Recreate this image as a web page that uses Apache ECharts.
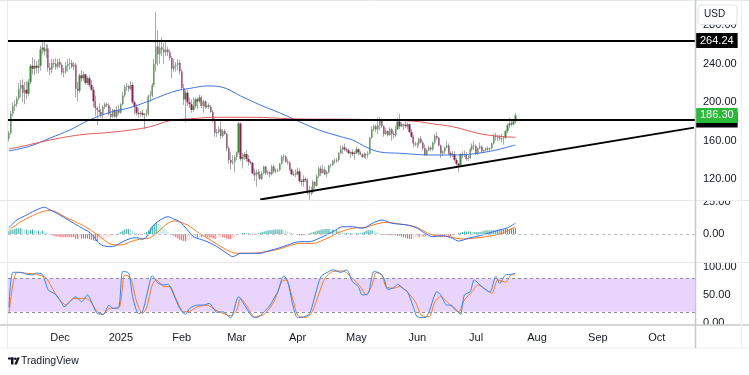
<!DOCTYPE html>
<html>
<head>
<meta charset="utf-8">
<script src="https://cdn.jsdelivr.net/npm/echarts@6/dist/echarts.min.js"></script>
<style>
html, body { margin: 0; padding: 0; background: #fff; }
#chart { width: 749px; height: 375px; }
</style>
</head>
<body>
<div id="chart"></div>
<script>
// ---- data ----
var startDate = [2024, 10, 5];   // first category = 5 Nov 2024
var dayCount = 350;              // time axis runs to 20 Oct 2025
var monthNames = ['2025', 'Feb', 'Mar', 'Apr', 'May', 'Jun', 'Jul', 'Aug', 'Sep', 'Oct', 'Nov', 'Dec'];
var priceTicks = [120, 160, 200, 240, 280];
var macdTicks = [0, 25];
var stochTicks = [0, 50, 100];

// daily candles [open, close, low, high]
var nov = [[162,168,159,170],[168,188,166,191],[188,196,185,200],[196,198,191,202],[198,204,195,206],[204,214,202,220],[214,218,205,223],[218,210,200,224],[210,213,198,221],[213,209,203,222],[209,221,206,224],[221,238,219,240],[238,235,229,247],[235,238,228,245],[238,236,230,243],[236,238,230,245],[238,255,233,259],[255,257,250,264],[257,253,249,264],[253,256,246,261],[256,236,232,260],[236,234,228,241],[234,241,230,245],[241,240,236,245],[240,237,234,246],[237,242,235,245]];
var dec = [[242,239,236,246],[239,231,228,241],[231,232,226,236],[232,238,230,242],[238,240,232,245],[240,241,234,246],[241,237,235,244],[237,239,233,242],[239,214,205,241],[214,212,201,221],[212,228,210,230],[228,225,221,233],[225,229,222,232],[229,220,218,230],[220,225,218,227],[225,218,216,228],[218,213,212,223],[213,201,195,216],[201,194,186,207],[194,192,176,196],[192,190,187,199],[190,187,184,193],[187,195,183,197],[195,198,193,200],[198,197,195,200],[197,188,186,199],[188,185,182,195],[185,192,184,193],[192,185,184,193],[185,192,183,196],[192,189,187,197]];
var jan = [[189,198,188,199],[198,207,197,211],[207,216,205,218],[216,217,212,220],[217,214,211,218],[214,218,212,222],[218,200,198,221],[200,195,187,202],[195,189,186,198],[189,188,184,194],[188,189,185,191],[189,187,185,192],[187,187.5,172,189],[187.5,188,185,193],[188,206,186,208],[206,207,200,212],[207,218,205,220],[218,240,216,245],[240,258,232,294],[258,250,238,275],[250,257,240,265],[257,255,248,268],[255,252,240,262],[252,255,248,265],[255,252,248,258],[252,246,244,255],[246,235,225,248],[235,238,232,245],[238,239,232,242],[239,241,233,245],[241,232,229,244]];
var feb = [[232,215,213,234],[215,203,197,219],[203,210,179,213],[210,200,196,213],[200,198,194,205],[198,192,189,203],[192,196,190,205],[196,203,194,205],[203,201,193,205],[201,205,199,208],[205,196,194,207],[196,201,189,203],[201,195,193,202],[195,197,194,201],[197,195,193,199],[195,190,189,197],[190,181,179,192],[181,168,164,183],[168,169,164,172],[169,172,167,175],[172,165,162,180],[165,170,163,172],[170,167,166,172],[167,152,149,168],[152,140,136,154],[140,137,130,148],[137,138,135,145],[138,143,127,145]];
var mar = [[143,148,140,149],[148,178,146,180],[178,141,139,179],[141,143,131,147],[143,146,140,148],[146,141,138,150],[141,138,134,145],[138,137,135,140],[137,126,125,138],[126,124,118,131],[124,127,112,130],[127,125,121,130],[125,120,119,128],[120,126,119,128],[126,133,125,134],[133,126,124,134],[126,127,124,129],[127,125,122,128],[125,133,124,135],[133,128,126,135],[128,129,126,131],[129,129.5,127,131],[129.5,136,128,137],[136,143,135,145],[143,143.5,139,146],[143.5,138,137,145],[138,137,135,141],[137,130,128,139],[130,125,124,131],[125,124.5,123,128],[124.5,125,122,130]];
var apr = [[125,128,124,132],[128,118,116,131],[118,117,113,120],[117,120,112,124],[120,119,117,122],[119,106,104,121],[106,105,97,113],[105,106,103,112],[106,117,105,119],[117,113,110,118],[113,123,112,125],[123,131,121,133],[131,126,123,134],[126,130,126,135],[130,125,124,133],[125,127,122,129],[127,134,126,135],[134,134.5,132,136],[134.5,139,134,140],[139,138.5,136,141],[138.5,140,137,142],[140,147,138,148],[147,151,146,155],[151,153,146,155],[153,151,149,157],[151,150,148,153],[150,147,146,152],[147,148,142,149],[148,146,144,151],[146,147,140,149]];
var may = [[147,151,146,154],[151,148,145,152],[148,146,145,149],[146,143,142,147],[143,146,142,148],[146,145,141,147],[145,146.5,142,149],[146.5,163,146,164],[163,172,162,175],[172,175,170,177],[175,172,169,177],[172,176,167,184],[176,182,171,185],[182,175,173,183],[175,167,164,176],[167,170,166,173],[170,166,164,171],[166,172,165,174],[172,167,160,173],[167,166,162,170],[166,172,164,176],[172,180,171,184],[180,175,172,188],[175,177,174,179],[177,176.5,171,178],[176.5,175,173,180],[175,177,172,179],[177,169,168,178],[169,164,163,172],[164,157,153,166],[157,156,154,159]];
var jun = [[156,157,152,158],[157,162,154,163],[162,158,157,165],[158,152,150,160],[152,145,144,156],[145,150,144,152],[150,153,149,155],[153,151,149,154],[151,158,149,159],[158,165,156,167],[165,163,161,169],[163,155,154,164],[155,147,142,156],[147,149,144,150],[149,153,146,154],[153,155,152,160],[155,147,145,157],[147,145,142,149],[145,146,143,149],[146,140,138,149],[140,136,134,142],[136,134,127,137],[134,146,133,147],[146,145,142,149],[145,146,143,150],[146,141,139,148],[141,142,139,145],[142,151,141,153],[151,155,149,157],[155,154.5,150,160]];
var jul = [[154.5,147,145,156],[147,152,145,153],[152,154,151,158],[154,149,147,155],[149,150,147,151],[150,152,149,153],[152,151,149,154],[151,152,148,153],[152,157,151,158],[157,165,156,167],[165,164,160,168],[164,163,160,166],[163,162,160,166],[162,162.5,158,167],[162.5,163,156,165],[163,170,162,171],[170,176,168,178],[176,178,173,184],[178,177,175,181],[177,180,176,183],[180,186.3,178,189]];

// moving averages [day index, value]
var maBlue = [[0,149.3],[11,154.5],[21,162.8],[31,171.1],[41,181.6],[52,189.9],[62,194.6],[72,201.9],[77,206],[85,211.8],[92,214.4],[101,217],[108,216],[118,206.6],[128,197.2],[138,188.9],[148,179.8],[158,171.1],[169,164.2],[175,160.7],[182,153.4],[189,148.2],[199,146.9],[216,145.1],[226,145.1],[243,148.2],[258,155.5]];
var maRed = [[0,151.4],[6,153.8],[21,160.7],[36,166],[52,168.8],[62,171.1],[72,174.6],[82,180.8],[96,183.3],[104,184.4],[123,184.4],[148,182.6],[174,182.3],[192,181.6],[208,180],[216,177.5],[226,174.6],[239,167.7],[248,164.9],[258,163.5]];

// drawn levels
var resistance = 264.24;
var support = 181.6;
var trendline = [['2025-03-13', 98.75], ['2025-10-20', 173.6]];

// MACD pane
var macdLine = [[0,5],[4,10.9],[9,14.8],[12,17.4],[16,20.1],[18,20.9],[21,18.8],[26,14.8],[31,10.2],[36,5.7],[40,2.3],[43,-1.3],[45,-6],[48,-9.1],[52,-9.9],[55,-8.6],[58,-6],[62,-3.4],[65,-2.9],[68,-4.1],[71,-0.8],[73,5.7],[77,10.9],[81,13.5],[84,11.7],[87,9.6],[91,3.1],[94,-2.1],[97,-3.9],[101,-6],[106,-9.9],[111,-15.1],[114,-17.7],[118,-15.1],[123,-15.1],[128,-15.1],[131,-13.8],[137,-11.2],[142,-8.6],[148,-6],[153,-6],[158,-3.4],[165,1.8],[170,5.7],[175,5.7],[180,4.5],[186,9],[190,10.9],[195,8.4],[203,7],[208,4.5],[212,0.5],[216,-2.1],[221,-1.3],[226,-3.4],[229,-5.5],[234,-3.4],[241,-0.8],[248,2.3],[254,4.9],[258,8.4]];
var signalLine = [[0,3],[6,9.6],[12,14.3],[17,17.5],[21,18.5],[30,12.2],[38,6.5],[45,-0.5],[48,-4],[52,-8],[57,-8.6],[62,-6],[67,-3.9],[72,-2.9],[77,3.1],[81,8.4],[84,10.2],[91,7],[97,0.5],[104,-6],[111,-12.5],[116,-15.1],[123,-15.1],[129,-14.3],[137,-12],[143,-9.1],[148,-7.3],[155,-7.3],[162,-3.4],[169,1.8],[175,4.5],[182,5.2],[186,7.3],[192,9.1],[200,7.6],[207,5.7],[212,1.8],[217,-1.3],[224,-2.1],[231,-3.9],[236,-3.4],[243,-2.1],[251,0.5],[258,5.7]];
var histogram = [2.5,3,3.5,4,4.5,4.5,4.5, 4,3.5,3.5,3,3,3.5,3,2.5,2.5,2,2.5,2,1.5, 0.5,-0.5,-1,-1.5,
  -2,-2,-2.5,-2.5,-2.5,-2.5,-2.5,-2.5,-2.5,-2.5, -3.5,-4,-3.5,-3.5,-3.5,-3.5,-3.5, -4,-4.5,-5,-5.5,-5.5,-5,-4.5,
  -4,-3.5,-3,-2.5,-2,-1.5,-1,-0.5,0.5, 1.5,2.5,3.5,4,4,3.5,2.5, 1.5,0.5,-0.5,-0.5,0,0.5,1.5,
  3,4.5,6,7.5,8.5,8,7,6, 4.5,3,1.5,0.5,-0.5,-1.5,-2.5,-3.5, -4.5,-5,-5.5,-5.5,-5,-4.5,-4,-3.5,
  -3,-3,-2.5,-2.5,-2,-2,-2.5,-3,-3, -3.5,-4,-3.5,-3,-2.5,-2.5,-3,-3.5, -4,-4,-3.5,-2.5,-1.5,-0.5,
  0,0.5,0.5,0.5,0.5,0,-0.5,-0.5, 0,0.5,1,1.5,2,2.5,3,3, 3,3.5,3.5,3.5,3.5,3.5,3,2.5, 2,1.5,1,0.5,0,-0.5,
  -1,-1,-1,-0.5,0,0.5, 1,1.5,2,2.5,3,3.5,3.5, 4,4,4,3.5,3.5,3,3, 2.5,2,1.5,1,1,0.5,0.5,0,
  0,0.5,0.5,0.5,1,1.5,2.5, 3,3,3,2.5,2,1.5,0.5, 0,-0.5,-0.5,-1,-1,-1,-1,-1, -1.5,-1.5,-2,-2.5,-3,-3.5,-4,
  -4,-3.5,-3,-2.5,-2.5,-2,-2, -2,-1.5,-1,-0.5,-0.5,-1,-1, -1.5,-1.5,-1,-1,-1,-1.5,-1.5, -1,-0.5,0,0.5,1,1.5,2,
  2,2,2,1.5,1.5,1.5,1.5, 1.5,2,2.5,3,3,3,3, 3,3,3.5,3.5,3.5,3.5,4,4,4,4.5,4.5,4.5];

// Stoch RSI pane
var stochK = [[0,28],[2,90.5],[6,90.5],[9,87],[12,86],[14,89],[17,87],[20,59],[23,53],[24,50],[27,35],[28,29],[31,38],[34,47],[37,38],[40,50],[42,38],[45,17],[48,15.5],[51,32],[53,26],[56,29],[58,92],[61,89],[63,47],[66,17],[68,20],[71,62],[73,84.5],[76,71],[79,68],[81,69],[84,50],[87,26],[90,15.5],[92,26],[96,32],[99,32],[102,35],[106,19],[109,20],[113,9.5],[114,15.5],[117,47],[120,32],[124,11],[126,9.5],[130,20],[133,32],[136,50],[137,56],[140,84.5],[142,74],[145,26],[147,9.5],[150,11],[153,15.5],[156,50],[159,83],[163,92],[165,95],[169,90.5],[172,95],[175,74],[178,65],[180,50],[183,53],[185,84.5],[186,92],[189,88.7],[191,80],[193,60],[196,63],[198,69],[201,61],[203,56],[206,29],[208,11],[212,9.5],[214,20],[218,56],[220,50],[223,32],[225,32],[228,23],[230,15.5],[232,50],[235,56],[237,77],[240,68],[242,62],[245,55],[248,83],[250,71],[253,86],[256,87],[258,89]];
var stochD = [[0,17],[4,90.5],[9,88.7],[14,87],[19,80],[23,56],[26,41],[29,32],[33,44],[38,44],[41,41],[45,20],[48,15.5],[51,26],[56,27],[59,86],[62,80],[65,38],[68,17],[70,26],[73,68],[75,77],[79,65],[82,65],[85,44],[89,20],[92,21],[96,29],[101,32],[104,26],[107,20],[113,13],[116,23],[118,44],[122,26],[125,11],[130,15.5],[135,38],[139,74],[141,77],[145,38],[147,14],[151,9.5],[154,17],[158,53],[161,80],[165,92],[170,93],[175,80],[179,65],[182,50],[185,68],[187,90],[190,86],[192,65],[196,62],[199,65],[203,55],[207,38],[210,14],[214,11],[217,38],[220,47],[224,35],[229,20],[232,41],[236,56],[239,68],[242,62],[246,53],[249,77],[253,73],[256,86],[258,86]];

// ---- build ----
var candles = nov.concat(dec, jan, feb, mar, apr, may, jun, jul);
var lastPrice = candles[candles.length - 1][1];

var days = [];
for (var d = 0; d < dayCount; d++) {
    days.push(new Date(Date.UTC(startDate[0], startDate[1], startDate[2] + d)).toISOString().slice(0, 10));
}

// bodies without wicks, so the wick series underneath can stay grey
var bodies = candles.map(function (c) {
    return [c[0], c[1], Math.min(c[0], c[1]), Math.max(c[0], c[1])];
});

var histData = histogram.map(function (v, i) {
    var prev = i > 0 ? histogram[i - 1] : 0;
    var color;
    if (v >= 0) {
        color = v >= prev ? '#26a69a' : '#b2dfdb';
    } else {
        color = v <= prev ? '#ff5252' : '#ffcdd2';
    }
    return {value: v, itemStyle: {color: color}};
});

var FONT = 'Liberation Sans, Arial, sans-serif';
var TXT = '#131722';
var LEFT = 8, RIGHT = 54;

function xAxisFor(idx, showLabels) {
    return {
        type: 'category', gridIndex: idx, data: days, boundaryGap: true,
        axisLine: {show: false}, axisTick: {show: false}, splitLine: {show: false},
        axisLabel: {
            show: showLabels, margin: 9, fontSize: 11, color: TXT, fontFamily: FONT,
            interval: function (i, v) { return v.slice(8) === '01'; },
            formatter: function (v) { return monthNames[parseInt(v.slice(5, 7), 10) - 1]; }
        }
    };
}

function yAxisFor(idx, min, max, interval, ticks) {
    return {
        type: 'value', gridIndex: idx, position: 'right', min: min, max: max, interval: interval,
        axisLine: {show: false}, axisTick: {show: false}, splitLine: {show: false},
        axisLabel: {
            margin: 8, fontSize: 11, color: TXT, fontFamily: FONT,
            formatter: function (v) { return ticks.indexOf(v) >= 0 ? v.toFixed(2) : ''; }
        }
    };
}

function levelLabel(text, bg) {
    return {
        show: true, position: 'end', distance: 1, formatter: text,
        color: '#fff', backgroundColor: bg, padding: [2, 4, 1, 4],
        fontSize: 11, lineHeight: 12, fontFamily: FONT
    };
}

function hLine(x1, x2, y, color, w) {
    return {type: 'line', z: 100, silent: true, shape: {x1: x1, y1: y, x2: x2, y2: y}, style: {stroke: color, lineWidth: w || 1}};
}
function vLine(x, y1, y2, color, w) {
    return {type: 'line', z: 100, silent: true, shape: {x1: x, y1: y1, x2: x, y2: y2}, style: {stroke: color, lineWidth: w || 1}};
}

var option = {
    animation: false,
    backgroundColor: '#ffffff',
    textStyle: {fontFamily: FONT},
    grid: [
        {left: LEFT, right: RIGHT, top: 3, height: 214.5},
        {left: LEFT, right: RIGHT, top: 202, height: 64},
        {left: LEFT, right: RIGHT, top: 267, height: 56}
    ],
    xAxis: [xAxisFor(0, false), xAxisFor(1, false), xAxisFor(2, true)],
    yAxis: [
        yAxisFor(0, 80, 303.4, 40, priceTicks),
        yAxisFor(1, -25, 25, 25, macdTicks),
        yAxisFor(2, 0, 100, 50, stochTicks)
    ],
    series: [
        {
            name: 'wicks', type: 'candlestick', xAxisIndex: 0, yAxisIndex: 0, z: 2,
            data: candles, barWidth: 1,
            itemStyle: {color: '#a9a9a9', color0: '#a9a9a9', borderColor: '#a9a9a9', borderColor0: '#a9a9a9', borderWidth: 1},
            markLine: {
                symbol: 'none', silent: true, animation: false,
                data: [
                    {yAxis: resistance, lineStyle: {color: '#000', width: 2, type: 'solid'}, label: levelLabel(resistance.toFixed(2), '#000')},
                    {yAxis: support, lineStyle: {color: '#000', width: 2, type: 'solid'}, label: levelLabel(support.toFixed(2), '#000')},
                    [{coord: trendline[0], lineStyle: {color: '#000', width: 2, type: 'solid'}, label: {show: false}}, {coord: trendline[1]}]
                ]
            }
        },
        {
            name: 'bodies', type: 'candlestick', xAxisIndex: 0, yAxisIndex: 0, z: 3,
            data: bodies, barWidth: 1.8,
            itemStyle: {color: '#3a8a3a', color0: '#8c1c52', borderColor: '#3a8a3a', borderColor0: '#8c1c52', borderWidth: 0},
            // last price tag on the price scale
            markLine: {
                symbol: 'none', silent: true, animation: false,
                data: [
                    {yAxis: lastPrice, lineStyle: {color: 'rgba(0,0,0,0)', width: 1, type: 'solid'}, label: levelLabel(lastPrice.toFixed(2), '#2bb93a')}
                ]
            }
        },
        {
            name: 'MA blue', type: 'line', xAxisIndex: 0, yAxisIndex: 0, z: 4,
            data: maBlue, smooth: 0.4, showSymbol: false,
            lineStyle: {color: '#3f74e0', width: 1}
        },
        {
            name: 'MA red', type: 'line', xAxisIndex: 0, yAxisIndex: 0, z: 4,
            data: maRed, smooth: 0.4, showSymbol: false,
            lineStyle: {color: '#e05a5a', width: 1}
        },
        {
            name: 'Histogram', type: 'bar', xAxisIndex: 1, yAxisIndex: 1, z: 2,
            data: histData, barWidth: 1,
            markLine: {
                symbol: 'none', silent: true, label: {show: false},
                lineStyle: {color: '#c3c5cc', width: 1, type: [3, 3]},
                data: [{yAxis: 0}]
            }
        },
        {
            name: 'MACD', type: 'line', xAxisIndex: 1, yAxisIndex: 1, z: 4,
            data: macdLine, smooth: 0.3, showSymbol: false,
            lineStyle: {color: '#2f6cf2', width: 1}
        },
        {
            name: 'Signal', type: 'line', xAxisIndex: 1, yAxisIndex: 1, z: 3,
            data: signalLine, smooth: 0.3, showSymbol: false,
            lineStyle: {color: '#ff7a1a', width: 1}
        },
        {
            name: 'band', type: 'line', xAxisIndex: 2, yAxisIndex: 2, z: 1, data: [],
            markArea: {silent: true, itemStyle: {color: '#e9d5fb'}, data: [[{yAxis: 20}, {yAxis: 80}]]},
            markLine: {
                symbol: 'none', silent: true, label: {show: false},
                lineStyle: {color: '#8e8e99', width: 1, type: [3, 3]},
                data: [{yAxis: 20}, {yAxis: 80}]
            }
        },
        {
            name: 'K', type: 'line', xAxisIndex: 2, yAxisIndex: 2, z: 4,
            data: stochK, smooth: 0.25, showSymbol: false,
            lineStyle: {color: '#2f86f2', width: 1}
        },
        {
            name: 'D', type: 'line', xAxisIndex: 2, yAxisIndex: 2, z: 3,
            data: stochD, smooth: 0.25, showSymbol: false,
            lineStyle: {color: '#ff7a1a', width: 1}
        }
    ],
    graphic: [
        // clip the half-hidden pane labels
        {type: 'rect', z: 99, silent: true, shape: {x: 696, y: 189, width: 44, height: 11.5}, style: {fill: '#fff'}},
        {type: 'rect', z: 99, silent: true, shape: {x: 696, y: 325, width: 44, height: 10}, style: {fill: '#fff'}},
        // frame and pane separators
        hLine(0, 749, 0.5, '#e6e8ee'),
        vLine(7.5, 0, 348, '#e6e8ee'),
        hLine(0, 749, 200.5, '#e6e8ee'),
        hLine(0, 749, 262.5, '#e6e8ee'),
        hLine(0, 749, 325, '#c7c9cf', 1.5),
        hLine(0, 749, 348, '#eef0f3'),
        vLine(695.5, 0, 348, '#c7c9cf', 1.5),
        vLine(741.5, 0, 348, '#eef0f3'),
        // currency box, partly covering the top price label
        {type: 'rect', z: 101, silent: true, shape: {x: 698, y: 5, width: 39, height: 19.5, r: 3}, style: {fill: '#fff', stroke: '#e0e3eb', lineWidth: 1}},
        {type: 'text', z: 102, silent: true, x: 704, y: 14, style: {text: 'USD', fill: TXT, fontSize: 10, fontFamily: FONT, verticalAlign: 'middle'}},
        // TradingView mark
        {type: 'rect', z: 101, silent: true, shape: {x: 8, y: 357.5, width: 5.5, height: 2}, style: {fill: TXT}},
        {type: 'rect', z: 101, silent: true, shape: {x: 11, y: 357.5, width: 2.5, height: 7}, style: {fill: TXT}},
        {type: 'circle', z: 101, silent: true, shape: {cx: 15.3, cy: 358.7, r: 1.3}, style: {fill: TXT}},
        {type: 'polygon', z: 101, silent: true, shape: {points: [[17.2, 357.5], [19.8, 357.5], [16.8, 364.5], [14.3, 364.5]]}, style: {fill: TXT}},
        {type: 'text', z: 101, silent: true, x: 21, y: 361.5, style: {text: 'TradingView', fill: TXT, fontSize: 10.5, fontFamily: FONT, verticalAlign: 'middle'}}
    ]
};

var myEcharts = echarts.init(document.getElementById('chart'), null, {renderer: 'canvas'});
myEcharts.setOption(option);
</script>
</body>
</html>
